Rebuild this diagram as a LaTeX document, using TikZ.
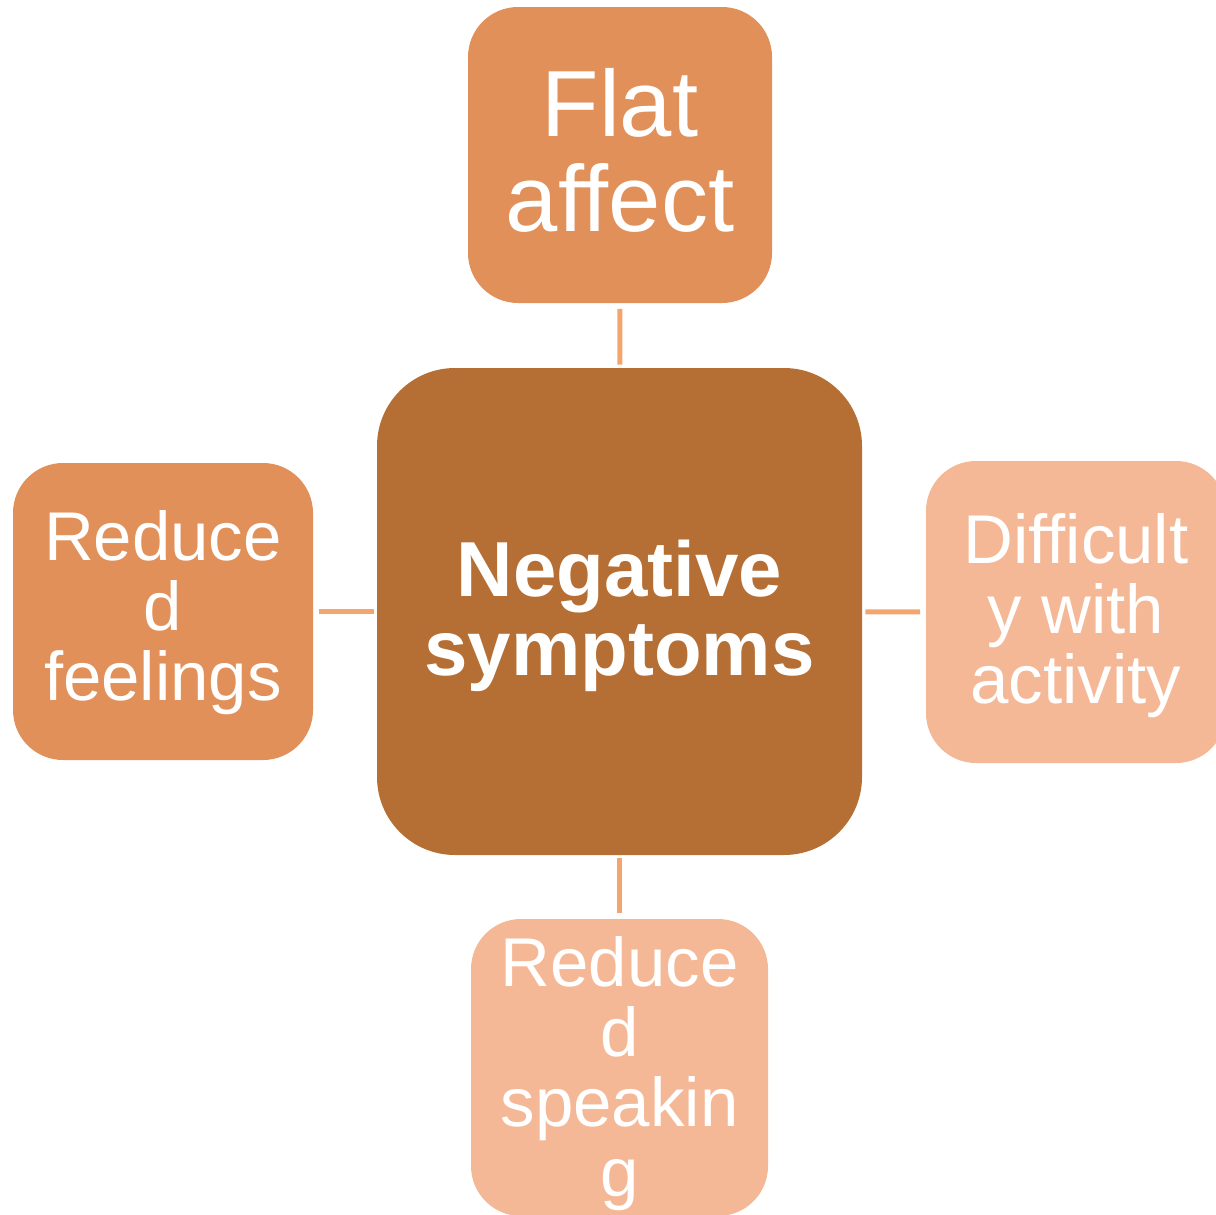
\documentclass[tikz,border=0pt]{standalone}
\usepackage{fontspec}
\setmainfont{Liberation Sans}
\definecolor{midc}{HTML}{E1905A}
\definecolor{darkc}{HTML}{B56E33}
\definecolor{lightc}{HTML}{F5B897}
\definecolor{linkc}{HTML}{F4A56E}
\begin{document}
\begin{tikzpicture}[x=0.5pt,y=-0.5pt,
  box/.style={rectangle, rounded corners=25pt, inner sep=0pt, text=white, align=center},
  smallbox/.style={box, font=\fontsize{34.5pt}{35pt}\selectfont, text depth=7.5pt},
  link/.style={draw=linkc, line width=2.5pt, shorten <=1.5pt, shorten >=2.75pt}]
\useasboundingbox (0,0) rectangle (1216,1215);
\clip (0,0) rectangle (1216,1215);
\node[box, fill=darkc, rounded corners=39pt, minimum width=242.5pt, minimum height=243.5pt,
  font=\fontsize{39pt}{39.5pt}\selectfont\bfseries, text height=72pt, text depth=8.5pt]
  (center) at (619.5,611.5) {Negative\\symptoms};
\node[box, fill=midc, minimum width=152pt, minimum height=148pt,
  font=\fontsize{47pt}{47.5pt}\selectfont, text height=86pt, text depth=10pt]
  (flat) at (620,155) {Flat\\affect};
\node[smallbox, fill=midc, minimum width=150pt, minimum height=148.5pt, text height=96pt]
  (feel) at (163,611.5) {Reduce\\d\\feelings};
\node[smallbox, fill=lightc, minimum width=150pt, minimum height=151pt, text height=98.5pt]
  (act) at (1076,612) {Difficult\\y with\\activity};
\node[smallbox, fill=lightc, minimum width=148.5pt, minimum height=148.5pt, text height=136pt]
  (speak) at (619.5,1067.5) {Reduce\\d\\speakin\\g};
\draw[link] (center) -- (flat);
\draw[link] (center) -- (feel);
\draw[link] (center) -- (act);
\draw[link] (center) -- (speak);
\end{tikzpicture}
\end{document}
